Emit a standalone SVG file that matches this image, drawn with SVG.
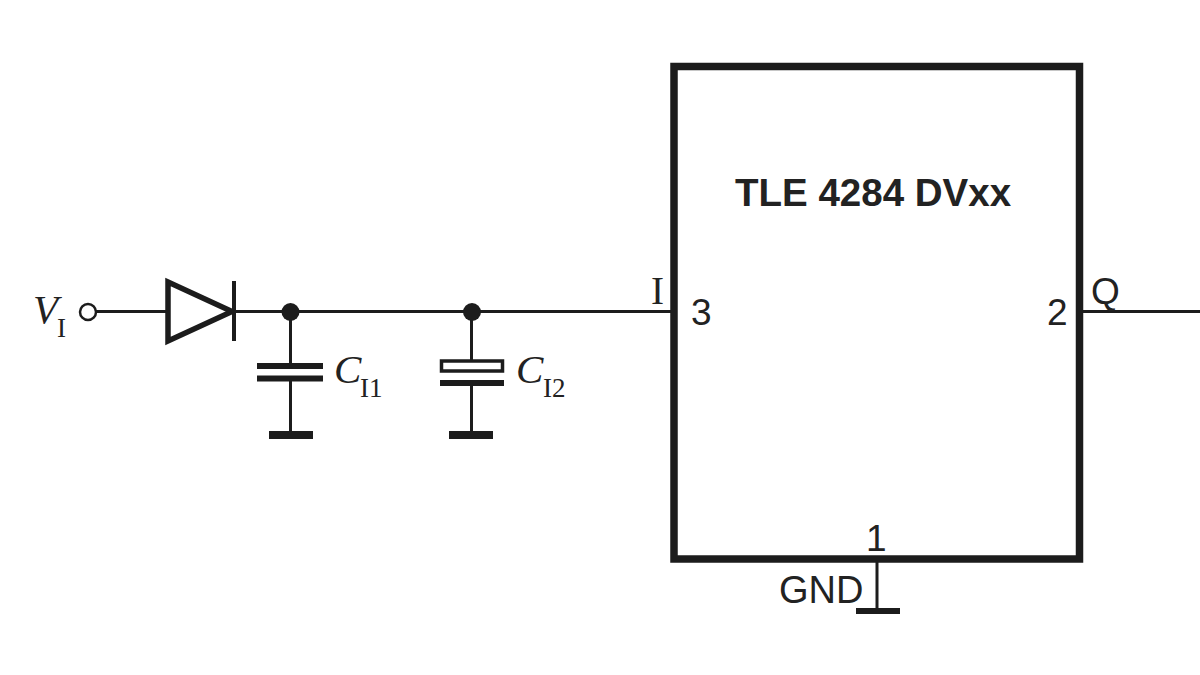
<svg xmlns="http://www.w3.org/2000/svg" width="1200" height="675" viewBox="0 0 1200 675">
<style>
.w{stroke:#1c1c1c;stroke-width:3;fill:none}
.p{fill:#1c1c1c}
.s{font-family:"Liberation Sans",Arial,sans-serif;fill:#222}
.t{font-family:"Liberation Serif","Times New Roman",serif;fill:#222}
.i{font-style:italic}
</style>
<rect width="1200" height="675" fill="#fff"/>
<g id="connectors">
<path class="w" d="M96 311.500H166M232 311.500H674M1080 311.500H1200M290.500 312V364M290.500 380V433M471.500 312V360M471.500 386V433M877 558V608"/>
</g>
<g id="input-terminal"><circle cx="88" cy="312" r="8" fill="#fff" stroke="#1c1c1c" stroke-width="2.500"/>
<text class="t i" x="33" y="323" font-size="41">V</text><text class="t" x="57" y="337" font-size="27">I</text></g>
<g id="diode"><path d="M168 282L232 311.500L168 341Z" fill="#fff" stroke="#1c1c1c" stroke-width="5.500"/>
<rect class="p" x="232" y="281" width="4" height="60"/></g>
<g id="junction-1"><circle class="p" cx="290.500" cy="312" r="9"/></g>
<g id="junction-2"><circle class="p" cx="472" cy="312" r="9"/></g>
<g id="c-i1">
<rect class="p" x="257" y="363" width="66" height="6"/><rect class="p" x="257" y="375.500" width="66" height="6"/>
<rect class="p" x="269" y="431" width="44" height="8"/>
<text class="t i" x="334" y="383" font-size="41">C</text><text class="t" x="360" y="397" font-size="27">I1</text></g>
<g id="c-i2">
<rect x="441.500" y="361" width="61" height="10" fill="#fff" stroke="#1c1c1c" stroke-width="3.500"/><rect class="p" x="440" y="380" width="64" height="6"/>
<rect class="p" x="449" y="431" width="44" height="8"/>
<text class="t i" x="516" y="383" font-size="41">C</text><text class="t" x="543" y="397" font-size="27">I2</text></g>
<g id="ic">
<rect x="674" y="66.500" width="405.500" height="492.500" fill="none" stroke="#1c1c1c" stroke-width="7.500"/>
<text class="s" x="735" y="206" font-size="38.500" font-weight="700">TLE 4284 DVxx</text>
<text class="t" x="651" y="304" font-size="39">I</text>
<text class="s" x="691" y="325" font-size="37">3</text>
<text class="s" x="1047" y="325" font-size="37">2</text>
<text class="s" x="1091" y="304" font-size="37">Q</text>
<text class="s" x="866" y="551" font-size="37">1</text>
</g>
<g id="gnd">
<text class="s" x="779" y="603" font-size="38">GND</text>
<rect class="p" x="856" y="608" width="44" height="6"/></g>
</svg>
